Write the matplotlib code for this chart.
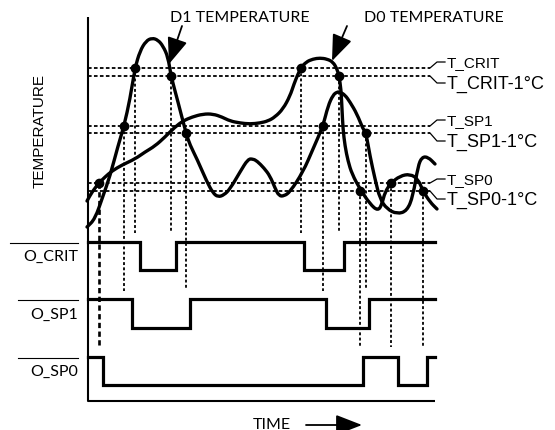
import matplotlib.pyplot as plt
from matplotlib.path import Path
from matplotlib.patches import PathPatch

# ---- data (diagram units: x = time, y = screen row, grows downward) ----
d1_x = [87, 95, 103, 110, 118, 124, 130, 135, 140, 146, 152, 158, 163, 168, 171,
        178, 186, 190, 197, 207, 213, 218, 224, 230, 240, 248, 253, 257, 264,
        270, 275, 279, 284, 290, 303, 313, 323, 328, 333, 337, 340, 345, 350,
        357, 363, 366, 370, 375, 380, 387, 397, 407, 413, 418, 422, 428, 435]
d1_y = [228, 220, 197, 177, 147, 127, 100, 69, 52, 42, 39, 41, 47, 58, 77,
        103, 134, 146, 160, 183, 194, 198, 196, 190, 173, 160, 160, 162, 169,
        177, 189, 197, 197, 193, 173, 150, 127, 107, 96, 93, 93, 96, 103,
        115, 130, 134, 157, 180, 200, 210, 215, 212, 197, 167, 158, 158, 165]

d0_x = [87, 92, 99, 105, 112, 122, 135, 145, 155, 165, 175, 183, 192, 203, 213,
        222, 230, 240, 250, 260, 268, 275, 283, 290, 294, 298, 301, 306, 313,
        320, 327, 333, 337, 339, 341, 342, 343, 345, 348, 352, 360, 370, 378,
        382, 385, 391, 400, 410, 418, 423, 430, 437]
d0_y = [202, 193, 184, 178, 172, 166, 160, 153, 147, 138, 128, 122, 118, 115, 115,
        118, 122, 124, 125, 124, 122, 118, 110, 97, 85, 75, 69, 63, 60,
        59, 60, 63, 70, 77, 90, 110, 130, 147, 162, 175, 190, 205, 212,
        205, 193, 184, 177, 175, 180, 192, 203, 210]

thresholds = [69, 77, 127, 134, 184, 192]
threshold_labels = ["T_CRIT", "T_CRIT-1°C", "T_SP1", "T_SP1-1°C", "T_SP0", "T_SP0-1°C"]
label_y = [63, 84, 121, 142, 180, 200]

# crossing points: (time, threshold level, how far the drop line goes)
cross_x = [99, 124, 135, 171, 186, 301, 323, 339, 360, 366, 391, 423]
cross_y = [184, 127, 69, 77, 134, 69, 127, 77, 192, 134, 184, 192]
cross_end = [347, 292, 234, 233, 290, 234, 292, 233, 347, 290, 348, 348]

signal_names = ["O_CRIT", "O_SP1", "O_SP0"]
signal_edges = [
    [88, 140, 176, 304, 344, 435],
    [88, 132, 190, 326, 369, 435],
    [88, 103, 363, 398, 427, 435],
]
signal_levels = [
    [1, 0, 1, 0, 1],
    [1, 0, 1, 0, 1],
    [1, 0, 1, 0, 1],
]
signal_high = [243, 300, 358]
signal_low = [271, 329, 386]


def smooth_path(xs, ys):
    pts = list(zip(xs, ys))
    verts = [pts[0], ((pts[0][0] + pts[1][0]) / 2, (pts[0][1] + pts[1][1]) / 2)]
    codes = [Path.MOVETO, Path.LINETO]
    for i in range(1, len(pts) - 1):
        mid = ((pts[i][0] + pts[i + 1][0]) / 2, (pts[i][1] + pts[i + 1][1]) / 2)
        verts += [pts[i], mid]
        codes += [Path.CURVE3, Path.CURVE3]
    verts.append(pts[-1])
    codes.append(Path.LINETO)
    return Path(verts, codes)


fig = plt.figure(figsize=(5.55, 4.31), dpi=100)
ax = fig.add_axes([0, 0, 1, 1])
ax.set_xlim(0, 555)
ax.set_ylim(431, 0)
ax.axis("off")

sans = "Liberation Sans"
hum = "Lato"

# axes frame
ax.plot([88, 88, 435], [18, 402, 402], color="black", lw=1.5, solid_capstyle="butt")

# threshold dotted lines and label brackets
for i, (ty, lab, ly) in enumerate(zip(thresholds, threshold_labels, label_y)):
    ax.plot([88, 430], [ty, ty], color="black", lw=1.3, ls=(0, (2, 1.3)))
    ax.plot([430, 437, 445], [ty, ly, ly], color="black", lw=0.9)
    size = 11 if i % 2 == 0 else 13
    ax.text(447, ly, lab, fontsize=size, family=sans, va="center", ha="left")

# drop lines from crossings
for k, (cx, cy, ce) in enumerate(zip(cross_x, cross_y, cross_end)):
    if k == 0:
        ax.plot([cx, cx], [cy, ce], color="black", lw=1.9, ls=(0, (2, 1.3)))
    else:
        ax.plot([cx, cx], [cy, ce], color="black", lw=1.3, ls=(0, (1.6, 1.3)))

# temperature curves
for xs, ys in [(d1_x, d1_y), (d0_x, d0_y)]:
    ax.add_patch(PathPatch(smooth_path(xs, ys), fill=False, lw=2.4,
                           edgecolor="black", capstyle="round", joinstyle="round"))

ax.plot(cross_x, cross_y, "o", color="black", ms=6)

# digital outputs
for name, edges, levels, hi, lo in zip(signal_names, signal_edges, signal_levels,
                                       signal_high, signal_low):
    xs, ys = [], []
    for j, lev in enumerate(levels):
        y = hi if lev else lo
        xs += [edges[j], edges[j + 1]]
        ys += [y, y]
    ax.plot(xs, ys, color="black", lw=2.3, solid_joinstyle="miter")
    ty = (hi + lo) / 2
    ax.text(78, ty, name, fontsize=11.5, family=hum, ha="right", va="center")
    ax.plot([18 if name != "O_CRIT" else 10, 78], [hi + 1, hi + 1], color="black", lw=0.8)

# titles and arrows
ax.text(240, 18, "D1 TEMPERATURE", fontsize=11.5, family=hum, ha="center", va="center")
ax.text(434, 18, "D0 TEMPERATURE", fontsize=11.5, family=hum, ha="center", va="center")
arrow = dict(arrowstyle="-|>,head_length=0.9,head_width=0.35", color="black",
             lw=1.3, mutation_scale=18, shrinkA=0, shrinkB=0)
ax.annotate("", xy=(169, 65), xytext=(182, 27), arrowprops=arrow)
ax.annotate("", xy=(332, 62), xytext=(347, 27), arrowprops=arrow)

ax.text(40, 131, "TEMPERATURE", fontsize=11, family=sans, rotation=90,
        ha="center", va="center")
ax.text(272, 425, "TIME", fontsize=11.5, family=hum, ha="center", va="center")
ax.annotate("", xy=(362, 426), xytext=(306, 426), arrowprops=arrow)

fig.savefig("out.png", dpi=100)
